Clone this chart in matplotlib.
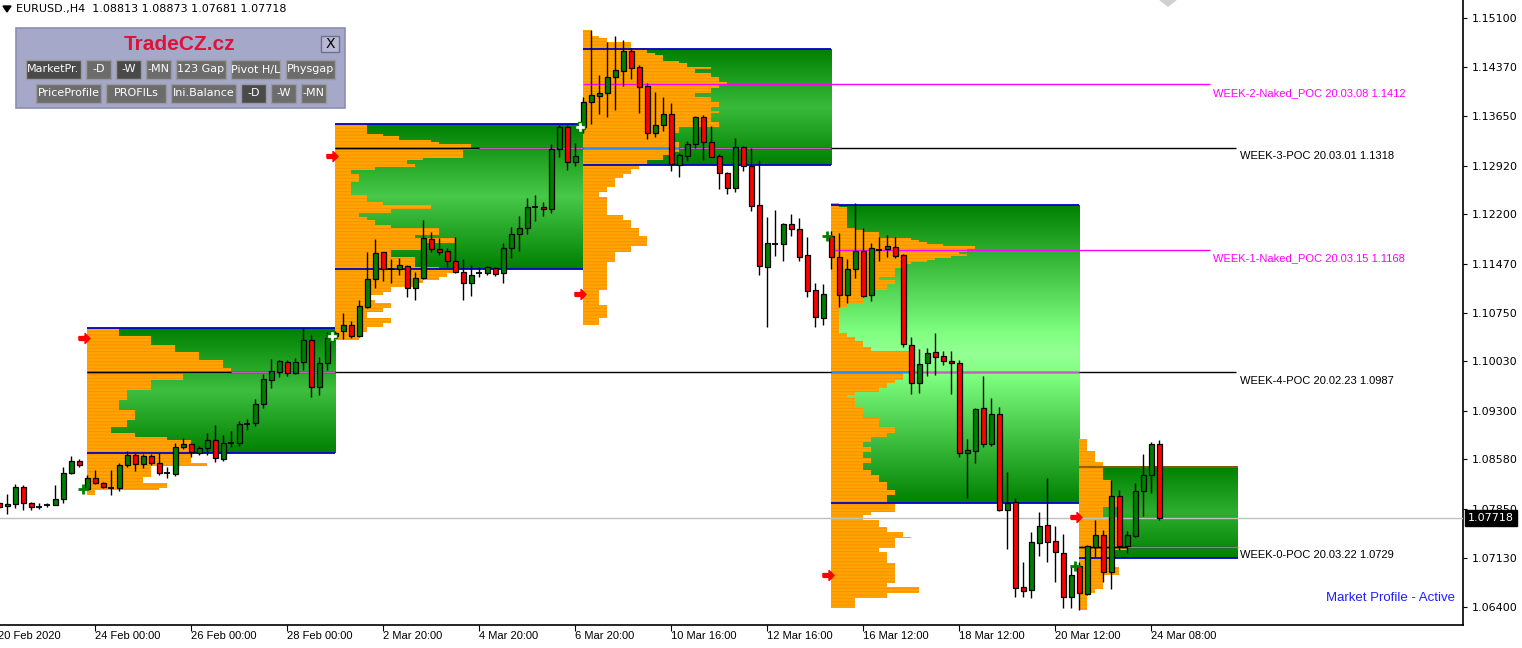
import numpy as np
import matplotlib
matplotlib.use("Agg")
import matplotlib.pyplot as plt
from matplotlib.patches import Rectangle, Polygon
from matplotlib.path import Path

# EURUSD H4 svicky 20.2. - 24.3.2020
opens = [1.0793, 1.0789, 1.0792, 1.0817, 1.0794, 1.0788, 1.0791, 1.0791, 1.0800, 1.0838,
         1.0856, 1.0814, 1.0831, 1.0823, 1.0816, 1.0816, 1.0850, 1.0865, 1.0851, 1.0863,
         1.0853, 1.0838, 1.0836, 1.0876, 1.0881, 1.0868, 1.0875, 1.0887, 1.0859, 1.0882,
         1.0882, 1.0910, 1.0912, 1.0940, 1.0975, 1.0987, 1.1002, 1.0986, 1.1002, 1.1034,
         1.0965, 1.1000, 1.1040, 1.1048, 1.1057, 1.1040, 1.1083, 1.1125, 1.1164, 1.1139,
         1.1139, 1.1144, 1.1111, 1.1126, 1.1184, 1.1169, 1.1166, 1.1151, 1.1135, 1.1119,
         1.1133, 1.1133, 1.1141, 1.1133, 1.1170, 1.1191, 1.1200, 1.1231, 1.1231, 1.1228,
         1.1317, 1.1349, 1.1297, 1.1349, 1.1386, 1.1395, 1.1399, 1.1423, 1.1432, 1.1461,
         1.1438, 1.1410, 1.1340, 1.1352, 1.1368, 1.1293, 1.1306, 1.1324, 1.1364, 1.1327,
         1.1306, 1.1281, 1.1259, 1.1320, 1.1291, 1.1234, 1.1142, 1.1176, 1.1176, 1.1206,
         1.1198, 1.1160, 1.1108, 1.1067, 1.1188, 1.1157, 1.1101, 1.1139, 1.1166, 1.1101,
         1.1167, 1.1169, 1.1172, 1.1160, 1.1027, 1.0971, 1.1001, 1.1017, 1.1011, 1.1003,
         1.1001, 1.0868, 1.0871, 1.0934, 1.0881, 1.0925, 1.0783, 1.0795, 1.0670, 1.0665,
         1.0735, 1.0761, 1.0738, 1.0720, 1.0655, 1.0701, 1.0659, 1.0729, 1.0746, 1.0692,
         1.0804, 1.0730, 1.0745, 1.0811, 1.0835, 1.08813]
highs = [1.0795, 1.0807, 1.0822, 1.0820, 1.0795, 1.0794, 1.0794, 1.0820, 1.0847, 1.0863,
         1.0859, 1.0835, 1.0842, 1.0825, 1.0842, 1.0853, 1.0871, 1.0868, 1.0866, 1.0866,
         1.0868, 1.0847, 1.0882, 1.0890, 1.0882, 1.0878, 1.0897, 1.0909, 1.0894, 1.0900,
         1.0915, 1.0918, 1.0947, 1.0984, 1.1006, 1.1005, 1.1005, 1.1008, 1.1052, 1.1042,
         1.1009, 1.1046, 1.1048, 1.1074, 1.1062, 1.1094, 1.1164, 1.1184, 1.1165, 1.1154,
         1.1156, 1.1145, 1.1135, 1.1212, 1.1194, 1.1185, 1.1170, 1.1187, 1.1154, 1.1145,
         1.1142, 1.1143, 1.1142, 1.1178, 1.1201, 1.1218, 1.1244, 1.1249, 1.1238, 1.1324,
         1.1352, 1.1352, 1.1325, 1.1393, 1.1492, 1.1426, 1.1475, 1.1483, 1.1478, 1.1466,
         1.1440, 1.1414, 1.1401, 1.1393, 1.1384, 1.1311, 1.1328, 1.1365, 1.1367, 1.1350,
         1.1309, 1.1283, 1.1333, 1.1321, 1.1318, 1.1300, 1.1216, 1.1226, 1.1207, 1.1221,
         1.1215, 1.1187, 1.1119, 1.1117, 1.1195, 1.1192, 1.1154, 1.1237, 1.1200, 1.1178,
         1.1187, 1.1190, 1.1187, 1.1161, 1.1039, 1.1021, 1.1023, 1.1045, 1.1018, 1.1018,
         1.1005, 1.0888, 1.0934, 1.0981, 1.0949, 1.0935, 1.0840, 1.0801, 1.0707, 1.0751,
         1.0780, 1.0831, 1.0760, 1.0748, 1.0702, 1.0707, 1.0732, 1.0769, 1.0754, 1.0828,
         1.0813, 1.0752, 1.0823, 1.0866, 1.0884, 1.08873]
lows = [1.0786, 1.0777, 1.0786, 1.0783, 1.0783, 1.0785, 1.0788, 1.0790, 1.0794, 1.0836,
        1.0847, 1.0813, 1.0822, 1.0816, 1.0805, 1.0811, 1.0847, 1.0841, 1.0845, 1.0850,
        1.0835, 1.0831, 1.0834, 1.0873, 1.0862, 1.0865, 1.0865, 1.0854, 1.0856, 1.0876,
        1.0878, 1.0902, 1.0907, 1.0934, 1.0964, 1.0980, 1.0981, 1.0984, 1.0990, 1.0950,
        1.0953, 1.0990, 1.1037, 1.1036, 1.1037, 1.1039, 1.1082, 1.1111, 1.1122, 1.1119,
        1.1131, 1.1098, 1.1094, 1.1125, 1.1164, 1.1160, 1.1142, 1.1133, 1.1094, 1.1099,
        1.1128, 1.1131, 1.1129, 1.1119, 1.1156, 1.1166, 1.1191, 1.1210, 1.1218, 1.1222,
        1.1305, 1.1286, 1.1291, 1.1340, 1.1353, 1.1368, 1.1364, 1.1374, 1.1410, 1.1420,
        1.1370, 1.1331, 1.1334, 1.1343, 1.1284, 1.1275, 1.1299, 1.1318, 1.1300, 1.1304,
        1.1258, 1.1250, 1.1253, 1.1284, 1.1225, 1.1131, 1.1054, 1.1159, 1.1151, 1.1188,
        1.1151, 1.1098, 1.1054, 1.1057, 1.1139, 1.1083, 1.1089, 1.1126, 1.1098, 1.1092,
        1.1151, 1.1157, 1.1156, 1.1024, 1.0955, 1.0956, 1.0981, 1.0983, 1.0998, 1.0955,
        1.0862, 1.0801, 1.0853, 1.0876, 1.0878, 1.0782, 1.0726, 1.0655, 1.0655, 1.0653,
        1.0715, 1.0707, 1.0677, 1.0639, 1.0639, 1.0636, 1.0658, 1.0714, 1.0677, 1.0667,
        1.0724, 1.0720, 1.0743, 1.0774, 1.0808, 1.07681]
closes = [1.0788, 1.0792, 1.0817, 1.0794, 1.0788, 1.0787, 1.0790, 1.0800, 1.0838, 1.0856,
          1.0850, 1.0831, 1.0823, 1.0817, 1.0817, 1.0850, 1.0865, 1.0851, 1.0863, 1.0853,
          1.0838, 1.0837, 1.0876, 1.0881, 1.0869, 1.0875, 1.0887, 1.0860, 1.0882, 1.0881,
          1.0910, 1.0909, 1.0940, 1.0977, 1.0989, 1.1003, 1.0986, 1.1002, 1.1034, 1.0965,
          1.1000, 1.1037, 1.1045, 1.1057, 1.1040, 1.1085, 1.1125, 1.1163, 1.1139, 1.1138,
          1.1145, 1.1111, 1.1126, 1.1185, 1.1169, 1.1164, 1.1151, 1.1135, 1.1119, 1.1131,
          1.1133, 1.1142, 1.1132, 1.1170, 1.1191, 1.1200, 1.1231, 1.1230, 1.1228, 1.1317,
          1.1349, 1.1297, 1.1306, 1.1386, 1.1396, 1.1399, 1.1423, 1.1433, 1.1461, 1.1436,
          1.1408, 1.1340, 1.1352, 1.1368, 1.1294, 1.1308, 1.1324, 1.1364, 1.1327, 1.1305,
          1.1281, 1.1259, 1.1320, 1.1291, 1.1232, 1.1144, 1.1178, 1.1175, 1.1206, 1.1198,
          1.1157, 1.1107, 1.1068, 1.1102, 1.1157, 1.1101, 1.1139, 1.1166, 1.1099, 1.1170,
          1.1166, 1.1173, 1.1159, 1.1029, 1.0971, 1.0999, 1.1015, 1.1009, 1.1003, 1.1001,
          1.0868, 1.0872, 1.0933, 1.0881, 1.0925, 1.0783, 1.0794, 1.0668, 1.0664, 1.0736,
          1.0760, 1.0736, 1.0721, 1.0655, 1.0687, 1.0661, 1.0730, 1.0746, 1.0692, 1.0804,
          1.0730, 1.0746, 1.0811, 1.0835, 1.0881, 1.07718]

# tydny: prvni svicka tydne, konec boxu, value area box
week_start = [11, 42, 73, 104, 135]
box_end = [42, 73, 104, 135, 154.8]
box_top = [1.1052, 1.1353, 1.1464, 1.1234, 1.0847]
box_bottom = [1.0868, 1.1139, 1.1293, 1.0794, 1.0712]

# market profile - hranice radku (shora dolu) a pocet TPO
w4_edges = [1.1052, 1.1040, 1.1027, 1.1017, 1.1005, 1.0993, 1.0984, 1.0975, 1.0961, 1.0946,
            1.0931, 1.0916, 1.0906, 1.0897, 1.0891, 1.0887, 1.0868, 1.0853, 1.0848, 1.0845,
            1.0832, 1.0823, 1.0816, 1.0813, 1.0805]
w4_tpo = [4, 8, 11, 14, 17, 18, 12, 8, 5, 4, 6, 5, 3, 6, 10, 13, 13, 15, 8, 8, 7, 10, 9, 1]
w3_edges = [1.1353, 1.1339, 1.1336, 1.1330, 1.1327, 1.1324, 1.1318, 1.1315, 1.1303, 1.1300,
            1.1294, 1.1290, 1.1286, 1.1280, 1.1268, 1.1249, 1.1238, 1.1234, 1.1228, 1.1222,
            1.1216, 1.1212, 1.1204, 1.1200, 1.1190, 1.1185, 1.1178, 1.1167, 1.1157, 1.1142,
            1.1139, 1.1133, 1.1127, 1.1123, 1.1119, 1.1113, 1.1105, 1.1101, 1.1094, 1.1089,
            1.1082, 1.1076, 1.1067, 1.1060, 1.1054, 1.1046, 1.1034]
w3_tpo = [4, 6, 8, 12, 13, 17, 18, 16, 11, 9, 10, 5, 2, 3, 2, 4, 6, 12, 7, 3,
          4, 5, 7, 13, 10, 15, 11, 7, 10, 13, 15, 14, 13, 11, 10, 7, 6, 4, 5, 7,
          6, 4, 7, 6, 4, 3]
w2_edges = [1.1492, 1.1483, 1.1480, 1.1475, 1.1466, 1.1458, 1.1455, 1.1447, 1.1444, 1.1438,
            1.1435, 1.1429, 1.1423, 1.1416, 1.1411, 1.1407, 1.1399, 1.1393, 1.1386, 1.1379,
            1.1373, 1.1370, 1.1356, 1.1349, 1.1340, 1.1327, 1.1320, 1.1312, 1.1308, 1.1300,
            1.1294, 1.1287, 1.1280, 1.1274, 1.1260, 1.1253, 1.1246, 1.1219, 1.1212, 1.1200,
            1.1188, 1.1173, 1.1164, 1.1150, 1.1130, 1.1108, 1.1086, 1.1067, 1.1057]
w2_tpo = [1, 2, 3, 6, 8, 9, 10, 12, 13, 16, 14, 16, 17, 18, 17, 16, 14, 16, 17, 16,
          17, 16, 17, 12, 11, 12, 12, 11, 10, 8, 7, 6, 5, 4, 3, 2, 3, 5, 6, 7,
          8, 6, 4, 3, 3, 2, 3, 2]
w1_edges = [1.1237, 1.1231, 1.1200, 1.1197, 1.1194, 1.1185, 1.1182, 1.1179, 1.1176, 1.1173,
            1.1169, 1.1164, 1.1161, 1.1159, 1.1156, 1.1153, 1.1150, 1.1147, 1.1141, 1.1127,
            1.1123, 1.1117, 1.1108, 1.1101, 1.1089, 1.1083, 1.1045, 1.1039, 1.1033, 1.1024,
            1.1018, 1.0986, 1.0975, 1.0971, 1.0964, 1.0958, 1.0953, 1.0949, 1.0935, 1.0919,
            1.0906, 1.0897, 1.0891, 1.0884, 1.0876, 1.0869, 1.0860, 1.0853, 1.0842, 1.0835,
            1.0825, 1.0813, 1.0805, 1.0794, 1.0780, 1.0776, 1.0769, 1.0758, 1.0751, 1.0743,
            1.0742, 1.0727, 1.0721, 1.0705, 1.0676, 1.0670, 1.0661, 1.0653, 1.0639]
w1_tpo = [1, 2, 3, 4, 6, 10, 11, 12, 14, 18, 17, 16, 17, 15, 13, 12, 10, 9, 8, 6,
          8, 7, 5, 4, 2, 1, 2, 3, 4, 5, 10, 9, 8, 7, 6, 3, 2, 3, 4, 6,
          8, 7, 5, 4, 5, 4, 5, 4, 5, 6, 7, 8, 7, 8, 5, 4, 6, 7, 9, 10,
          8, 6, 7, 8, 7, 11, 7, 3]
w0_edges = [1.0888, 1.0870, 1.0854, 1.0828, 1.0803, 1.0788, 1.0773, 1.0729, 1.0724, 1.0699,
            1.0687, 1.0667, 1.0661, 1.0636]
w0_tpo = [1, 2, 3, 4, 5, 3, 5, 6, 4, 5, 3, 2, 1]

# POC cary
poc_price = [1.1412, 1.1318, 1.1168, 1.0987, 1.0729]
poc_week = [2, 1, 3, 0, 4]
poc_naked = [True, False, True, False, False]
poc_label = ["WEEK-2-Naked_POC 20.03.08 1.1412", "WEEK-3-POC 20.03.01 1.1318",
             "WEEK-1-Naked_POC 20.03.15 1.1168", "WEEK-4-POC 20.02.23 1.0987",
             "WEEK-0-POC 20.03.22 1.0729"]

# znacky
arrow_price = [1.1037, 1.1306, 1.1102, 1.0687, 1.0773]

# osy
y_ticks = [1.15100, 1.14370, 1.13650, 1.12920, 1.12200, 1.11470, 1.10750,
           1.10030, 1.09300, 1.08580, 1.07850, 1.07130, 1.06400]
x_tick_bars = [0, 12, 24, 36, 48, 60, 72, 84, 96, 108, 120, 132, 144]
x_tick_labels = ["20 Feb 2020", "24 Feb 00:00", "26 Feb 00:00", "28 Feb 00:00", "2 Mar 20:00",
                 "4 Mar 20:00", "6 Mar 20:00", "10 Mar 16:00", "12 Mar 16:00", "16 Mar 12:00",
                 "18 Mar 12:00", "20 Mar 12:00", "24 Mar 08:00"]

profiles = [(w4_edges, w4_tpo), (w3_edges, w3_tpo), (w2_edges, w2_tpo),
            (w1_edges, w1_tpo), (w0_edges, w0_tpo)]

YMIN, YMAX = 1.06135, 1.15366
plt.rcParams["font.family"] = "DejaVu Sans"
plt.rcParams["hatch.linewidth"] = 0.6

fig = plt.figure(figsize=(15.22, 6.48), dpi=100)
ax = fig.add_axes([0, 23 / 648, 1463 / 1522, 625 / 648])
ax.set_xlim(0.0875, 182.96)
ax.set_ylim(YMIN, YMAX)

# gradientove boxy
px_per_price = 625 / (YMAX - YMIN)
for k in range(5):
    n = int(round((box_top[k] - box_bottom[k]) * px_per_price))
    d = np.minimum(np.arange(n), np.arange(n)[::-1]).astype(float)
    r = np.clip(d, 0, 255)
    g = np.clip(128 + d, 0, 255)
    img = np.stack([r, g, r], axis=1)[:, None, :] / 255
    ax.imshow(img, extent=(week_start[k], box_end[k], box_bottom[k], box_top[k]),
              origin="upper", aspect="auto", interpolation="nearest", zorder=1)

# profily
for k, (edges, tpo) in enumerate(profiles):
    e = np.array(edges)
    ax.barh((e[:-1] + e[1:]) / 2, tpo, height=e[:-1] - e[1:], left=week_start[k],
            color="#FFA500", edgecolor="#FF8A00", hatch="-----", linewidth=0, zorder=2)

# hrany boxu
for k in range(5):
    ax.hlines(box_bottom[k], week_start[k], box_end[k], color="#0000CD", lw=1.3, zorder=3)
    top_col = "#0000CD" if k < 4 else "#8B5A00"
    ax.hlines(box_top[k], week_start[k], box_end[k], color=top_col, lw=1.3, zorder=3)


def tpo_at(k, price):
    e = profiles[k][0]
    for i in range(len(e) - 1):
        if e[i] >= price > e[i + 1]:
            return profiles[k][1][i]
    return 0


# POC cary + popisky
for p, w, naked, lab in zip(poc_price, poc_week, poc_naked, poc_label):
    if naked:
        ax.hlines(p, week_start[w], 151.3, color="#FF00FF", lw=1, zorder=3)
        ax.text(151.7, p - 0.00125, lab, color="#FF00FF", fontsize=8,
                family="Liberation Sans", va="center", ha="left")
    else:
        ax.hlines(p, week_start[w], 154.6, color="black", lw=1, zorder=3)
        for k in range(w, 5):
            if box_bottom[k] <= p <= box_top[k]:
                n = tpo_at(k, p)
                c1 = "black" if k == w else "#1E90FF"
                ax.hlines(p, week_start[k], week_start[k] + n, color=c1, lw=1, zorder=3.1)
                ax.hlines(p, week_start[k] + n, box_end[k], color="#C060C0", lw=1, zorder=3.1)
        ax.text(155.1, p - 0.00125, lab, color="black", fontsize=8,
                family="Liberation Sans", va="center", ha="left")

# aktualni cena
ax.axhline(closes[-1], color="#C0C0C0", lw=1, zorder=4)

# svicky
o = np.array(opens)
h = np.array(highs)
l = np.array(lows)
c = np.array(closes)
x = np.arange(len(o))
ax.vlines(x, l, h, color="black", lw=1, zorder=5)
doji = np.abs(c - o) < 0.00012
body = ~doji
cols = np.where(c > o, "#007F00", "#FF0000")
ax.bar(x[body], np.abs(c - o)[body], bottom=np.minimum(o, c)[body], width=0.68,
       color=cols[body], edgecolor="black", linewidth=0.9, zorder=6)
ax.hlines(o[doji], x[doji] - 0.38, x[doji] + 0.38, color="black", lw=1.3, zorder=6)

# znacky tydnu
arrow = Path([(-1, -0.35), (0.1, -0.35), (0.1, -0.9), (1, 0), (0.1, 0.9), (0.1, 0.35),
              (-1, 0.35), (-1, -0.35)])
ax.plot(np.array(week_start) - 0.4, arrow_price, ls="none", marker=arrow, ms=8,
        color="#FF0000", zorder=7)
plus_idx = [0, 3, 4]
ax.plot([week_start[i] - 0.5 for i in plus_idx], [opens[week_start[i]] for i in plus_idx],
        ls="none", marker="+", ms=7, mew=2, color="#008000", zorder=7)
ax.plot([week_start[i] - 0.4 for i in (1, 2)], [opens[week_start[i]] for i in (1, 2)],
        ls="none", marker="P", ms=7, mfc="white", mec="#008000", mew=1, zorder=7)

# osy
for s in ("left", "top"):
    ax.spines[s].set_visible(False)
for s in ("right", "bottom"):
    ax.spines[s].set_linewidth(1.2)
ax.yaxis.tick_right()
ax.set_yticks(y_ticks)
ax.set_yticklabels([f"{v:.5f}" for v in y_ticks])
ax.tick_params(axis="y", direction="out", length=3, width=0.8, pad=3, labelsize=8)
ax.set_xticks(x_tick_bars[1:])
ax.set_xticklabels([])
ax.tick_params(axis="x", direction="out", length=4, width=0.8)
for b, lab in zip(x_tick_bars, x_tick_labels):
    ax.text(b - 0.1, -0.009, lab, transform=ax.get_xaxis_transform(), ha="left", va="top",
            fontsize=8, family="Liberation Sans", clip_on=False)

# cenovka posledni ceny
ax.text(1.0035, closes[-1], f"{closes[-1]:.5f}", transform=ax.get_yaxis_transform(),
        color="white", fontsize=8, va="center", ha="left", zorder=10,
        bbox=dict(boxstyle="square,pad=0.25", fc="black", ec="black"))

# overlay - panel a popisky
ov = fig.add_axes([0, 0, 1, 1])
ov.set_xlim(0, 1522)
ov.set_ylim(648, 0)
ov.axis("off")
ov.set_zorder(10)

ov.add_patch(Polygon([(3, 6), (11, 6), (7, 12)], closed=True, color="black"))
ov.text(16, 9, f"EURUSD.,H4  {opens[-1]:.5f} {highs[-1]:.5f} {lows[-1]:.5f} {closes[-1]:.5f}",
        fontsize=8, va="center", ha="left", color="black")
ov.add_patch(Polygon([(1160, 0), (1176, 0), (1168, 6)], closed=True, color="#D0D0D0"))

ov.add_patch(Rectangle((16, 28), 329, 80, fc="#A6A8CA", ec="#8C8EB2", lw=1.2))
ov.text(180, 45, "TradeCZ.cz", color="#DC143C", fontsize=15, fontweight="bold",
        family="Liberation Sans", ha="center", va="center")
ov.add_patch(Rectangle((321, 36), 18, 16, fc="#B8B9D2", ec="#70708E", lw=1))
ov.text(330, 44, "X", fontsize=10, ha="center", va="center", color="black")

buttons = [("MarketPr.", 26, 81, 60, True), ("-D", 86, 111, 60, False),
           ("-W", 116, 141, 60, True), ("-MN", 146, 171, 60, False),
           ("123 Gap", 176, 226, 60, False), ("Pivot H/L", 231, 280, 60, False),
           ("Physgap", 286, 335, 60, False),
           ("PriceProfile", 36, 101, 84, False), ("PROFILs", 106, 166, 84, False),
           ("Ini.Balance", 171, 236, 84, False), ("-D", 241, 266, 84, True),
           ("-W", 271, 296, 84, False), ("-MN", 301, 326, 84, False)]
for lab, x0, x1, y0, pressed in buttons:
    ov.add_patch(Rectangle((x0, y0), x1 - x0, 19, fc="#4A4A4A" if pressed else "#6C6C6C",
                           ec="#9A9A9A", lw=1))
    ov.text((x0 + x1) / 2, y0 + 9.5, lab, color="white", fontsize=8,
            ha="center", va="center")

ov.text(1455, 598, "Market Profile - Active", color="#1E1EFF", fontsize=9.5,
        family="Liberation Sans", ha="right", va="center")

fig.savefig("out.png", dpi=100, facecolor="white")
